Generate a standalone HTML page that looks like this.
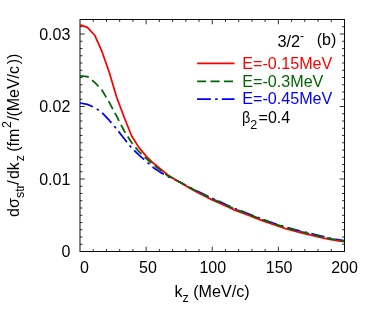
<!DOCTYPE html>
<html><head><meta charset="utf-8"><style>
html,body{margin:0;padding:0;background:#fff;}
body{width:374px;height:320px;overflow:hidden;position:relative;}
svg{position:absolute;left:0;top:0;opacity:0.999;will-change:transform;}
text{font-family:"Liberation Sans",sans-serif;font-size:16px;fill:#000;}
</style></head><body>
<svg width="374" height="320" viewBox="0 0 374 320">
<rect x="0" y="0" width="374" height="320" fill="#fff"/>
<defs><clipPath id="c"><rect x="79.5" y="19.0" width="264.5" height="233.0"/></clipPath></defs>
<g stroke="#000" stroke-width="0.95" fill="none">
<rect x="80.0" y="19.5" width="264.5" height="232.0"/>
</g>
<g stroke="#000" stroke-width="0.8" fill="none">
<line x1="93.22" y1="251.5" x2="93.22" y2="249.0"/>
<line x1="93.22" y1="19.5" x2="93.22" y2="22.0"/>
<line x1="106.45" y1="251.5" x2="106.45" y2="249.0"/>
<line x1="106.45" y1="19.5" x2="106.45" y2="22.0"/>
<line x1="119.67" y1="251.5" x2="119.67" y2="249.0"/>
<line x1="119.67" y1="19.5" x2="119.67" y2="22.0"/>
<line x1="132.90" y1="251.5" x2="132.90" y2="249.0"/>
<line x1="132.90" y1="19.5" x2="132.90" y2="22.0"/>
<line x1="146.12" y1="251.5" x2="146.12" y2="246.7"/>
<line x1="146.12" y1="19.5" x2="146.12" y2="24.3"/>
<line x1="159.35" y1="251.5" x2="159.35" y2="249.0"/>
<line x1="159.35" y1="19.5" x2="159.35" y2="22.0"/>
<line x1="172.57" y1="251.5" x2="172.57" y2="249.0"/>
<line x1="172.57" y1="19.5" x2="172.57" y2="22.0"/>
<line x1="185.80" y1="251.5" x2="185.80" y2="249.0"/>
<line x1="185.80" y1="19.5" x2="185.80" y2="22.0"/>
<line x1="199.03" y1="251.5" x2="199.03" y2="249.0"/>
<line x1="199.03" y1="19.5" x2="199.03" y2="22.0"/>
<line x1="212.25" y1="251.5" x2="212.25" y2="246.7"/>
<line x1="212.25" y1="19.5" x2="212.25" y2="24.3"/>
<line x1="225.47" y1="251.5" x2="225.47" y2="249.0"/>
<line x1="225.47" y1="19.5" x2="225.47" y2="22.0"/>
<line x1="238.70" y1="251.5" x2="238.70" y2="249.0"/>
<line x1="238.70" y1="19.5" x2="238.70" y2="22.0"/>
<line x1="251.93" y1="251.5" x2="251.93" y2="249.0"/>
<line x1="251.93" y1="19.5" x2="251.93" y2="22.0"/>
<line x1="265.15" y1="251.5" x2="265.15" y2="249.0"/>
<line x1="265.15" y1="19.5" x2="265.15" y2="22.0"/>
<line x1="278.38" y1="251.5" x2="278.38" y2="246.7"/>
<line x1="278.38" y1="19.5" x2="278.38" y2="24.3"/>
<line x1="291.60" y1="251.5" x2="291.60" y2="249.0"/>
<line x1="291.60" y1="19.5" x2="291.60" y2="22.0"/>
<line x1="304.82" y1="251.5" x2="304.82" y2="249.0"/>
<line x1="304.82" y1="19.5" x2="304.82" y2="22.0"/>
<line x1="318.05" y1="251.5" x2="318.05" y2="249.0"/>
<line x1="318.05" y1="19.5" x2="318.05" y2="22.0"/>
<line x1="331.27" y1="251.5" x2="331.27" y2="249.0"/>
<line x1="331.27" y1="19.5" x2="331.27" y2="22.0"/>
<line x1="80.0" y1="244.25" x2="82.5" y2="244.25"/>
<line x1="344.5" y1="244.25" x2="342.0" y2="244.25"/>
<line x1="80.0" y1="237.00" x2="82.5" y2="237.00"/>
<line x1="344.5" y1="237.00" x2="342.0" y2="237.00"/>
<line x1="80.0" y1="229.75" x2="82.5" y2="229.75"/>
<line x1="344.5" y1="229.75" x2="342.0" y2="229.75"/>
<line x1="80.0" y1="222.50" x2="82.5" y2="222.50"/>
<line x1="344.5" y1="222.50" x2="342.0" y2="222.50"/>
<line x1="80.0" y1="215.25" x2="82.5" y2="215.25"/>
<line x1="344.5" y1="215.25" x2="342.0" y2="215.25"/>
<line x1="80.0" y1="208.00" x2="82.5" y2="208.00"/>
<line x1="344.5" y1="208.00" x2="342.0" y2="208.00"/>
<line x1="80.0" y1="200.75" x2="82.5" y2="200.75"/>
<line x1="344.5" y1="200.75" x2="342.0" y2="200.75"/>
<line x1="80.0" y1="193.50" x2="82.5" y2="193.50"/>
<line x1="344.5" y1="193.50" x2="342.0" y2="193.50"/>
<line x1="80.0" y1="186.25" x2="82.5" y2="186.25"/>
<line x1="344.5" y1="186.25" x2="342.0" y2="186.25"/>
<line x1="80.0" y1="179.00" x2="84.8" y2="179.00"/>
<line x1="344.5" y1="179.00" x2="339.7" y2="179.00"/>
<line x1="80.0" y1="171.75" x2="82.5" y2="171.75"/>
<line x1="344.5" y1="171.75" x2="342.0" y2="171.75"/>
<line x1="80.0" y1="164.50" x2="82.5" y2="164.50"/>
<line x1="344.5" y1="164.50" x2="342.0" y2="164.50"/>
<line x1="80.0" y1="157.25" x2="82.5" y2="157.25"/>
<line x1="344.5" y1="157.25" x2="342.0" y2="157.25"/>
<line x1="80.0" y1="150.00" x2="82.5" y2="150.00"/>
<line x1="344.5" y1="150.00" x2="342.0" y2="150.00"/>
<line x1="80.0" y1="142.75" x2="82.5" y2="142.75"/>
<line x1="344.5" y1="142.75" x2="342.0" y2="142.75"/>
<line x1="80.0" y1="135.50" x2="82.5" y2="135.50"/>
<line x1="344.5" y1="135.50" x2="342.0" y2="135.50"/>
<line x1="80.0" y1="128.25" x2="82.5" y2="128.25"/>
<line x1="344.5" y1="128.25" x2="342.0" y2="128.25"/>
<line x1="80.0" y1="121.00" x2="82.5" y2="121.00"/>
<line x1="344.5" y1="121.00" x2="342.0" y2="121.00"/>
<line x1="80.0" y1="113.75" x2="82.5" y2="113.75"/>
<line x1="344.5" y1="113.75" x2="342.0" y2="113.75"/>
<line x1="80.0" y1="106.50" x2="84.8" y2="106.50"/>
<line x1="344.5" y1="106.50" x2="339.7" y2="106.50"/>
<line x1="80.0" y1="99.25" x2="82.5" y2="99.25"/>
<line x1="344.5" y1="99.25" x2="342.0" y2="99.25"/>
<line x1="80.0" y1="92.00" x2="82.5" y2="92.00"/>
<line x1="344.5" y1="92.00" x2="342.0" y2="92.00"/>
<line x1="80.0" y1="84.75" x2="82.5" y2="84.75"/>
<line x1="344.5" y1="84.75" x2="342.0" y2="84.75"/>
<line x1="80.0" y1="77.50" x2="82.5" y2="77.50"/>
<line x1="344.5" y1="77.50" x2="342.0" y2="77.50"/>
<line x1="80.0" y1="70.25" x2="82.5" y2="70.25"/>
<line x1="344.5" y1="70.25" x2="342.0" y2="70.25"/>
<line x1="80.0" y1="63.00" x2="82.5" y2="63.00"/>
<line x1="344.5" y1="63.00" x2="342.0" y2="63.00"/>
<line x1="80.0" y1="55.75" x2="82.5" y2="55.75"/>
<line x1="344.5" y1="55.75" x2="342.0" y2="55.75"/>
<line x1="80.0" y1="48.50" x2="82.5" y2="48.50"/>
<line x1="344.5" y1="48.50" x2="342.0" y2="48.50"/>
<line x1="80.0" y1="41.25" x2="82.5" y2="41.25"/>
<line x1="344.5" y1="41.25" x2="342.0" y2="41.25"/>
<line x1="80.0" y1="34.00" x2="84.8" y2="34.00"/>
<line x1="344.5" y1="34.00" x2="339.7" y2="34.00"/>
<line x1="80.0" y1="26.75" x2="82.5" y2="26.75"/>
<line x1="344.5" y1="26.75" x2="342.0" y2="26.75"/>
</g>
<g clip-path="url(#c)" fill="none" stroke-width="1.75" stroke-linejoin="round">
<path d="M80.00,103.00 L87.35,104.39 L94.69,107.49 L102.04,112.69 L109.39,120.46 L116.74,129.14 L124.08,138.52 L131.43,147.85 L138.78,154.93 L146.12,161.42 L153.47,167.71 L160.82,172.64 L168.17,176.60 L175.51,179.91 L182.86,183.83 L190.21,187.70 L197.56,191.38 L204.90,194.77 L212.25,198.35 L219.60,201.65 L226.94,205.07 L234.29,208.34 L241.64,211.15 L248.99,213.95 L256.33,216.87 L263.68,219.65 L271.03,222.28 L278.38,224.75 L285.72,227.06 L293.07,229.16 L300.42,231.04 L307.76,232.83 L315.11,234.69 L322.46,236.47 L329.81,238.21 L337.15,239.55 L344.50,240.77" stroke="#0000ff" stroke-dasharray="13.6 4.4 2.5 4.2"/>
<path d="M80.00,24.80 L87.35,27.30 L94.69,35.22 L102.04,51.71 L109.39,72.70 L116.74,97.56 L124.08,117.05 L131.43,135.45 L138.78,147.39 L146.12,156.17 L153.47,163.28 L160.82,169.24 L168.17,175.14 L175.51,179.63 L182.86,184.10 L190.21,188.37 L197.56,192.47 L204.90,196.27 L212.25,199.85 L219.60,203.15 L226.94,206.57 L234.29,209.84 L241.64,212.65 L248.99,215.45 L256.33,218.37 L263.68,221.15 L271.03,223.78 L278.38,226.25 L285.72,228.56 L293.07,230.66 L300.42,232.54 L307.76,234.33 L315.11,236.19 L322.46,237.92 L329.81,239.51 L337.15,240.70 L344.50,241.77" stroke="#ff0000"/>
<path d="M80.00,75.80 L87.35,76.53 L94.69,82.43 L102.04,90.21 L109.39,102.66 L116.74,116.42 L124.08,130.77 L131.43,142.31 L138.78,151.48 L146.12,158.38 L153.47,164.87 L160.82,170.61 L168.17,176.00 L175.51,179.67 L182.86,183.81 L190.21,187.78 L197.56,191.57 L204.90,195.25 L212.25,198.81 L219.60,202.09 L226.94,205.48 L234.29,208.74 L241.64,211.55 L248.99,214.35 L256.33,217.27 L263.68,220.05 L271.03,222.68 L278.38,225.15 L285.72,227.46 L293.07,229.56 L300.42,231.44 L307.76,233.23 L315.11,235.09 L322.46,236.87 L329.81,238.61 L337.15,239.95 L344.50,241.17" stroke="#006600" stroke-dasharray="9 4.4"/>
</g>
<g>
<text x="84.5" y="273" text-anchor="middle">0</text>
<text x="148.0" y="273" text-anchor="middle">50</text>
<text x="212.8" y="273" text-anchor="middle">100</text>
<text x="279.1" y="273" text-anchor="middle">150</text>
<text x="344.5" y="273" text-anchor="middle">200</text>
<text x="70.3" y="257.30" text-anchor="end">0</text>
<text x="70.3" y="184.80" text-anchor="end">0.01</text>
<text x="70.3" y="112.30" text-anchor="end">0.02</text>
<text x="70.3" y="39.80" text-anchor="end">0.03</text>
</g>
<!-- legend -->
<g fill="none" stroke-width="1.7">
<line x1="197.1" y1="63.45" x2="234.5" y2="63.45" stroke="#ff0000"/>
<line x1="197.1" y1="81.45" x2="234.5" y2="81.45" stroke="#006600" stroke-dasharray="9.1 4.3"/>
<line x1="197.1" y1="99.05" x2="234.5" y2="99.05" stroke="#0000ff" stroke-dasharray="13.8 4.3 2.4 4.2"/>
</g>
<text x="242.2" y="68.8" style="fill:#ff0000;font-size:16.15px">E=-0.15MeV</text>
<text x="242.2" y="86.5" style="fill:#006600;font-size:16.15px">E=-0.3MeV</text>
<text x="242.2" y="103.6" style="fill:#0000ff;font-size:16.15px">E=-0.45MeV</text>
<text transform="translate(241.9,122.9) scale(0.9,1)">β</text>
<text x="250.3" y="128.9" style="font-size:12.5px">2</text>
<text x="258.6" y="122.9">=0.4</text>
<text x="277.4" y="46.9" style="font-size:16.3px">3/2<tspan font-size="12" dy="-6.8">-</tspan></text>
<text x="316.7" y="44.8">(b)</text>
<!-- x title -->
<text x="174.4" y="296.5" style="font-size:16.15px">k<tspan font-size="12.5" dy="5">z</tspan><tspan dy="-5"> (MeV/c)</tspan></text>
<!-- y title -->
<g transform="translate(19.4,216.9) rotate(-90)">
<text><tspan x="0" y="0">dσ</tspan><tspan font-size="12.5" x="18.8" y="4.2">str</tspan><tspan x="32.1" y="0">/</tspan><tspan x="37.8" y="0">dk</tspan><tspan font-size="12.5" x="55.6" y="4.2">z</tspan><tspan x="65.2" y="0">(fm</tspan><tspan font-size="12.5" x="88.8" y="-8.6">2</tspan><tspan x="96.4" y="0">/</tspan><tspan x="100.3" y="0">(MeV/c</tspan><tspan x="152.7" y="0">))</tspan></text>
</g>
</svg>
</body></html>
